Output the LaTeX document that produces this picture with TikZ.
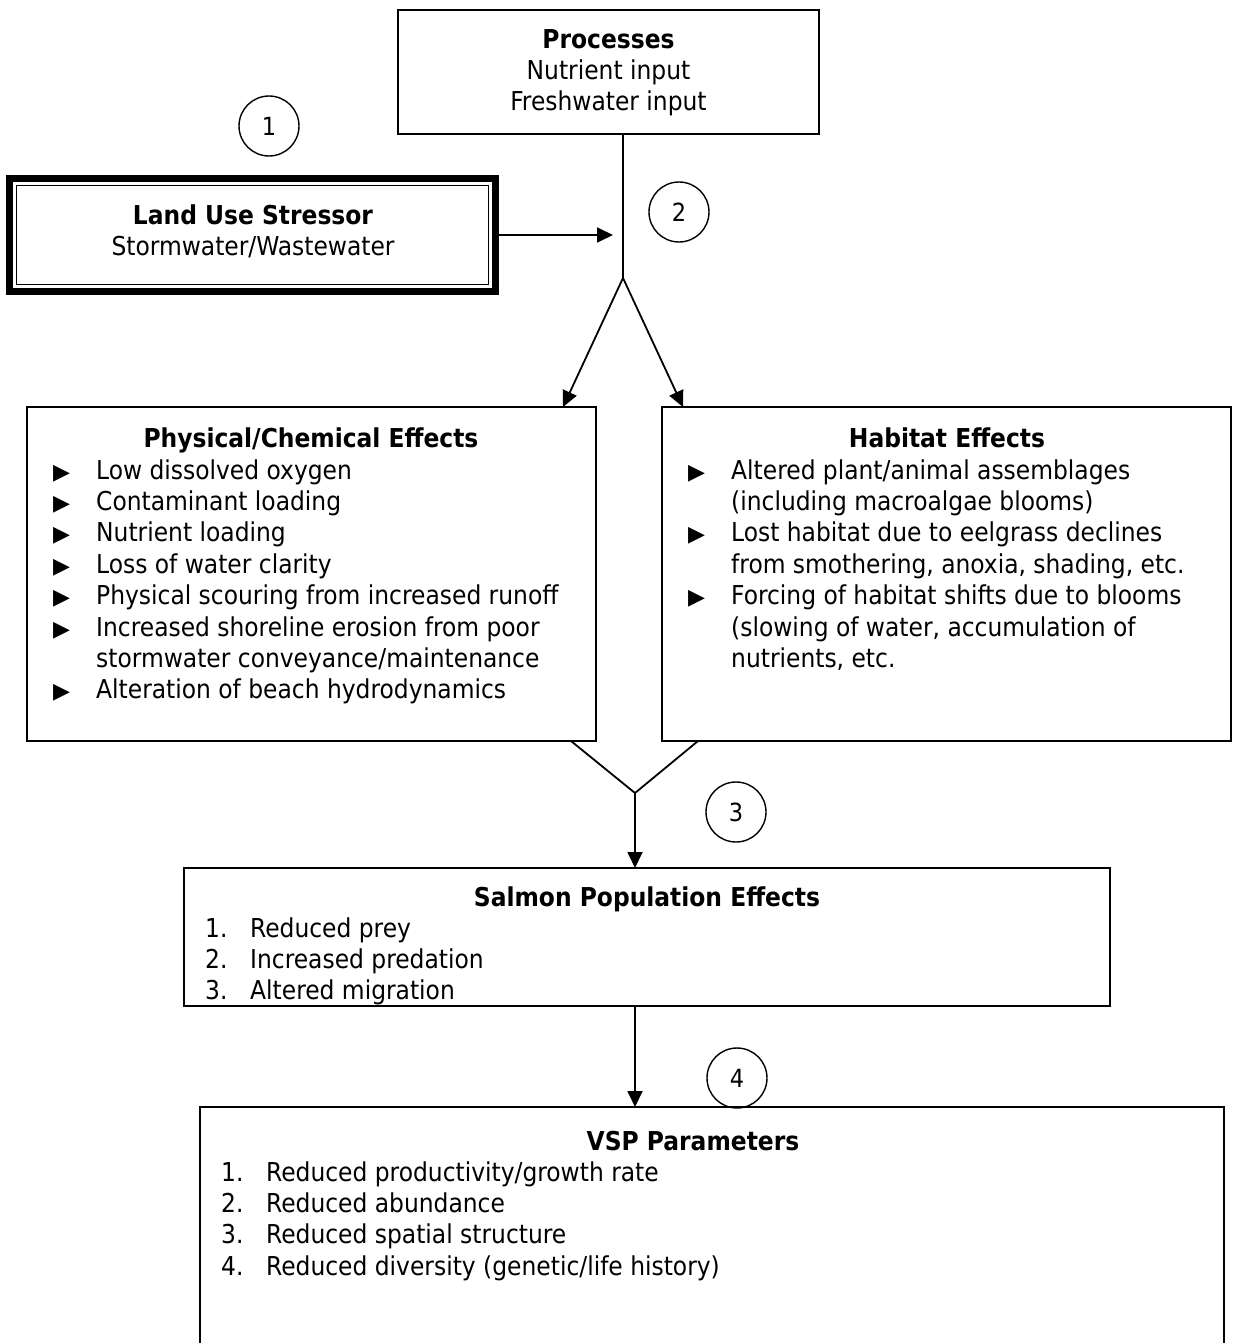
\documentclass[tikz,border=0pt]{standalone}
\usepackage{fontspec}
\setmainfont{DejaVu Sans Condensed}
\newfontfamily\symfont{DejaVu Sans}
\usetikzlibrary{arrows.meta}

\newcommand{\tri}{{\symfont\fontsize{22}{22}\selectfont\raisebox{0pt}{▶}}}

\begin{document}
\begin{tikzpicture}[x=1pt,y=-1pt,
  box/.style={draw, line width=1.8pt, rectangle, inner sep=0pt, outer sep=0pt, anchor=north west},
  txt/.style={inner sep=0pt, font=\fontsize{26}{31.4}\selectfont},
  ttl/.style={inner sep=0pt, font=\fontsize{26}{31.4}\selectfont\bfseries, anchor=base},
  line/.style={txt, anchor=base},
  lst/.style={txt, anchor=base west},
  num/.style={draw, circle, line width=1.4pt, minimum size=60pt, inner sep=0pt,
              font=\fontsize{25}{27}\selectfont},
  link/.style={line width=1.8pt},
  arr/.style={link, -{Triangle[length=16pt,width=15pt]}},
]
\useasboundingbox (0,0) rectangle (1236,1343);
\clip (0,0) rectangle (1236,1343);

% Processes
\node[box, minimum width=421pt, minimum height=124pt] (proc) at (398,10) {};
\node[ttl]  (procT) at (608.5,49) {Processes};
\node[line] (procA) at (608.5,80) {Nutrient input};
\node[line] (procB) at (608.5,111) {Freshwater input};

% Land use stressor with thick-thin frame
\node[draw, line width=7pt, rectangle, inner sep=0pt, outer sep=0pt, anchor=north west,
      minimum width=486pt, minimum height=113pt] (land) at (9.5,178.5) {};
\node[draw, line width=1.3pt, rectangle, inner sep=0pt, outer sep=0pt,
      minimum width=472pt, minimum height=99pt] (landin) at (land.center) {};
\node[ttl]  (landT) at (253,224) {Land Use Stressor};
\node[line] (landA) at (253,255) {Stormwater/Wastewater};

% numbered markers
\node[num] (c1) at (269,126) {1};
\node[num] (c2) at (679,212) {2};
\node[num] (c3) at (736,812) {3};
\node[num] (c4) at (737,1078) {4};

% Physical / chemical effects
\node[box, minimum width=569pt, minimum height=334pt] (phys) at (27,407) {};
\node[ttl] (physT) at (311,447) {Physical/Chemical Effects};
\node[lst] (physL) at (53,479) {\begin{tabular}[t]{@{}p{43pt}@{}l@{}}
\tri & Low dissolved oxygen\\
\tri & Contaminant loading\\
\tri & Nutrient loading\\
\tri & Loss of water clarity\\
\tri & Physical scouring from increased runoff\\
\tri & Increased shoreline erosion from poor\\
     & stormwater conveyance/maintenance\\
\tri & Alteration of beach hydrodynamics
\end{tabular}};

% Habitat effects
\node[box, minimum width=569pt, minimum height=334pt] (hab) at (662,407) {};
\node[ttl] (habT) at (947,447) {Habitat Effects};
\node[lst] (habL) at (688,479) {\begin{tabular}[t]{@{}p{43pt}@{}l@{}}
\tri & Altered plant/animal assemblages\\
     & (including macroalgae blooms)\\
\tri & Lost habitat due to eelgrass declines\\
     & from smothering, anoxia, shading, etc.\\
\tri & Forcing of habitat shifts due to blooms\\
     & (slowing of water, accumulation of\\
     & nutrients, etc.
\end{tabular}};

% Salmon population effects
\node[box, minimum width=926pt, minimum height=138pt] (salm) at (184,868) {};
\node[ttl] (salmT) at (647,906) {Salmon Population Effects};
\node[lst] (salmL) at (205,937) {\begin{tabular}[t]{@{}p{45pt}@{}l@{}}
1. & Reduced prey\\
2. & Increased predation\\
3. & Altered migration
\end{tabular}};

% VSP parameters (frame runs past the lower edge)
\node[box, minimum width=1024pt, minimum height=260pt] (vsp) at (200,1107) {};
\node[ttl] (vspT) at (693,1150) {VSP Parameters};
\node[lst] (vspL) at (221,1181) {\begin{tabular}[t]{@{}p{45pt}@{}l@{}}
1. & Reduced productivity/growth rate\\
2. & Reduced abundance\\
3. & Reduced spatial structure\\
4. & Reduced diversity (genetic/life history)
\end{tabular}};

% connectors
\coordinate (fork) at (623,278);
\coordinate (merge) at (635,793);
\draw[link] (proc.south -| fork) -- (fork);
\draw[arr] (land.east) -- ([xshift=-10pt]land.east -| fork);
\draw[arr] (fork) -- (phys.north -| 563,0);
\draw[arr] (fork) -- (hab.north -| 683,0);
\draw[link] (phys.south -| 571,0) -- (merge) -- (hab.south -| 698,0);
\draw[arr] (merge) -- (salm.north -| merge);
\draw[arr] (salm.south -| merge) -- (vsp.north -| merge);
\end{tikzpicture}
\end{document}
